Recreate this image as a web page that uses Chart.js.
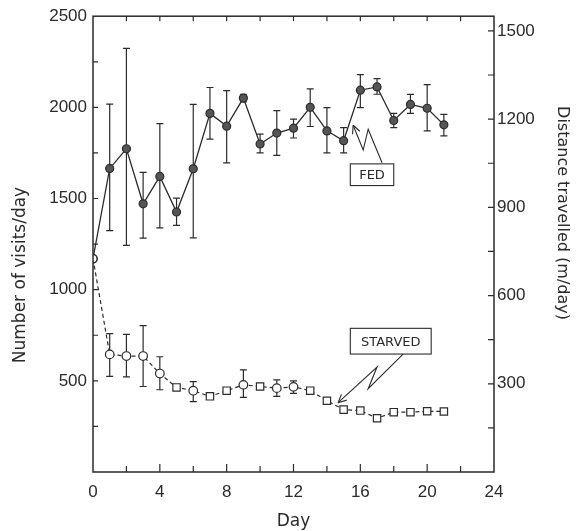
<!DOCTYPE html>
<html>
<head>
<meta charset="utf-8">
<script src="https://cdn.jsdelivr.net/npm/chart.js@4.4.1/dist/chart.umd.min.js"></script>
<style>
  html, body { margin: 0; padding: 0; background: #fff; }
</style>
</head>
<body>
<canvas id="chart" width="579" height="531"></canvas>
<script>
// values (left axis units: visits/day)
const days = [0, 1, 2, 3, 4, 5, 6, 7, 8, 9, 10, 11, 12, 13, 14, 15, 16, 17, 18, 19, 20, 21];

const fedVisits = [1170, 1665, 1773, 1471, 1621, 1426, 1663, 1967, 1897, 2051, 1799, 1859, 1886, 2000, 1871, 1817, 2094, 2112, 1928, 2016, 1995, 1904];
const fedUpper  = [null, 2018, 2324, 1643, 1911, 1502, 2016, 2109, 2092, 2072, 1853, 1982, 1936, 2101, 1998, 1889, 2179, 2158, 1967, 2071, 2125, 1962];
const fedLower  = [null, 1324, 1243, 1283, 1339, 1353, 1284, 1826, 1696, 2030, 1750, 1737, 1832, 1895, 1750, 1750, 1998, 2072, 1889, 1967, 1871, 1844];

const starvedVisits = [1170, 645, 636, 636, 540, 464, 446, 415, 446, 478, 469, 460, 467, 446, 391, 342, 337, 295, 328, 328, 333, 332];
const starvedUpper  = [null, 759, 755, 803, 632, 480, 496, 430, 460, 560, 484, 505, 500, 460, 405, 356, 351, 309, 342, 342, 347, 346];
const starvedLower  = [null, 525, 522, 469, 451, 448, 386, 400, 432, 409, 454, 415, 431, 432, 377, 328, 323, 281, 314, 314, 319, 318];

// tick labels
const dayLabels = [0, 4, 8, 12, 16, 20, 24];
const visitLabels = [500, 1000, 1500, 2000, 2500];
const distanceLabels = [300, 600, 900, 1200, 1500];

// days where the starved marker prints as a small square
const starvedSquareDays = [5, 7, 8, 10, 13, 14, 15, 16, 17, 18, 19, 20, 21];

const ink = '#2b2b2b';
const tickFont = { family: "'Liberation Sans Narrow', 'Liberation Sans', sans-serif", size: 17 };

const errorBars = {
  id: 'errorBars',
  beforeDatasetsDraw(chart) {
    const { ctx, scales: { x, y } } = chart;
    const sets = [[fedUpper, fedLower], [starvedUpper, starvedLower]];
    ctx.save();
    ctx.strokeStyle = ink;
    ctx.lineWidth = 1.2;
    sets.forEach(([up, lo]) => {
      days.forEach((d, i) => {
        if (up[i] == null) return;
        const px = x.getPixelForValue(d);
        const t = y.getPixelForValue(up[i]);
        const b = y.getPixelForValue(lo[i]);
        ctx.beginPath();
        ctx.moveTo(px, t); ctx.lineTo(px, b);
        ctx.moveTo(px - 3.5, t); ctx.lineTo(px + 3.5, t);
        ctx.moveTo(px - 3.5, b); ctx.lineTo(px + 3.5, b);
        ctx.stroke();
      });
    });
    ctx.restore();
  }
};

const frameTicks = {
  id: 'frameTicks',
  afterDraw(chart) {
    const { ctx, chartArea: a, scales: { x, y, y2 } } = chart;
    ctx.save();
    ctx.strokeStyle = ink;
    ctx.lineWidth = 1.5;
    ctx.strokeRect(a.left, a.top, a.right - a.left, a.bottom - a.top);
    ctx.lineWidth = 1.2;
    ctx.beginPath();
    x.ticks.forEach(t => {
      if (t.value <= x.min || t.value >= x.max) return;
      const px = x.getPixelForValue(t.value);
      const len = dayLabels.includes(t.value) ? 8 : 6;
      ctx.moveTo(px, a.bottom); ctx.lineTo(px, a.bottom - len);
      ctx.moveTo(px, a.top); ctx.lineTo(px, a.top + 5);
    });
    y.ticks.forEach(t => {
      if (t.value <= y.min || t.value >= y.max) return;
      const py = y.getPixelForValue(t.value);
      ctx.moveTo(a.left, py); ctx.lineTo(a.left + 5, py);
    });
    y2.ticks.forEach(t => {
      if (t.value <= y2.min || t.value > 1500) return;
      const py = y2.getPixelForValue(t.value);
      ctx.moveTo(a.right, py); ctx.lineTo(a.right - 6, py);
    });
    ctx.stroke();

    // axis titles
    ctx.fillStyle = ink;
    ctx.textAlign = 'center';
    ctx.textBaseline = 'middle';
    ctx.font = "17px 'DejaVu Sans', sans-serif";
    ctx.save();
    ctx.translate(21, 275);
    ctx.rotate(-Math.PI / 2);
    ctx.fillText('Number of visits/day', 0, 0);
    ctx.restore();
    ctx.save();
    ctx.translate(562, 213);
    ctx.rotate(Math.PI / 2);
    ctx.font = "16px 'DejaVu Sans', sans-serif";
    ctx.fillText('Distance travelled (m/day)', 0, 0);
    ctx.restore();
    ctx.fillText('Day', (a.left + a.right) / 2, 522);
    ctx.restore();
  }
};

// labelled boxes with zigzag arrows, placed in data units
const notes = [
  { text: 'FED', box: [15.4, 1690, 18.0, 1571], path: [[17.3, 1696], [16.47, 1880], [16.17, 1766], [15.57, 1902]] },
  { text: 'STARVED', box: [15.4, 788, 20.24, 647], path: [[18.56, 647], [16.47, 457], [17.0, 576], [14.67, 380]] }
];

const callouts = {
  id: 'callouts',
  afterDraw(chart) {
    const { ctx, scales: { x, y } } = chart;
    ctx.save();
    ctx.strokeStyle = ink;
    ctx.fillStyle = ink;
    ctx.lineWidth = 1.1;
    ctx.font = "13px 'DejaVu Sans', sans-serif";
    ctx.textAlign = 'center';
    ctx.textBaseline = 'middle';
    notes.forEach(n => {
      const x0 = x.getPixelForValue(n.box[0]), y0 = y.getPixelForValue(n.box[1]);
      const x1 = x.getPixelForValue(n.box[2]), y1 = y.getPixelForValue(n.box[3]);
      ctx.fillStyle = '#fff';
      ctx.fillRect(x0, y0, x1 - x0, y1 - y0);
      ctx.strokeRect(x0, y0, x1 - x0, y1 - y0);
      ctx.fillStyle = ink;
      ctx.fillText(n.text, (x0 + x1) / 2, (y0 + y1) / 2 + 1);
      const pts = n.path.map(p => [x.getPixelForValue(p[0]), y.getPixelForValue(p[1])]);
      ctx.beginPath();
      pts.forEach((p, i) => i ? ctx.lineTo(p[0], p[1]) : ctx.moveTo(p[0], p[1]));
      ctx.stroke();
      const [tx, ty] = pts[pts.length - 1];
      const [px, py] = pts[pts.length - 2];
      const ang = Math.atan2(ty - py, tx - px);
      ctx.beginPath();
      [0.45, -0.45].forEach(d => {
        ctx.moveTo(tx, ty);
        ctx.lineTo(tx - 9 * Math.cos(ang + d), ty - 9 * Math.sin(ang + d));
      });
      ctx.stroke();
    });
    ctx.restore();
  }
};

const ctx = document.getElementById('chart').getContext('2d');
new Chart(ctx, {
  type: 'line',
  data: {
    datasets: [
      {
        label: 'Fed',
        data: days.map((d, i) => ({ x: d, y: fedVisits[i] })),
        borderColor: ink,
        borderWidth: 1.3,
        pointRadius: 4,
        pointBorderWidth: 1.2,
        pointBorderColor: ink,
        pointBackgroundColor: days.map(d => d === 0 ? '#fff' : '#555'),
        tension: 0
      },
      {
        label: 'Starved',
        data: days.map((d, i) => ({ x: d, y: starvedVisits[i] })),
        borderColor: ink,
        borderWidth: 1.2,
        borderDash: [4, 3],
        pointStyle: days.map(d => starvedSquareDays.includes(d) ? 'rect' : 'circle'),
        pointRadius: days.map(d => starvedSquareDays.includes(d) ? 5.2 : 4.3),
        pointBorderWidth: 1.2,
        pointBorderColor: ink,
        pointBackgroundColor: '#fff',
        tension: 0
      }
    ]
  },
  options: {
    responsive: false,
    animation: false,
    layout: { padding: { top: 12, left: 0, right: 0, bottom: 0 } },
    plugins: { legend: { display: false }, tooltip: { enabled: false } },
    scales: {
      x: {
        type: 'linear', min: 0, max: 24,
        grid: { display: false, drawTicks: false },
        border: { display: false },
        ticks: {
          stepSize: 2, padding: 10, autoSkip: false, maxRotation: 0,
          color: ink, font: tickFont,
          callback: v => dayLabels.includes(v) ? String(v) : ''
        },
        afterFit(s) { s.height = 59; }
      },
      y: {
        position: 'left', min: 0, max: 2500,
        grid: { display: false, drawTicks: false },
        border: { display: false },
        ticks: {
          stepSize: 250, padding: 6, autoSkip: false,
          color: ink, font: tickFont,
          callback: v => visitLabels.includes(v) ? String(v) : ''
        },
        afterFit(s) { s.width = 93; }
      },
      y2: {
        position: 'right', min: 0, max: 1550,
        grid: { display: false, drawTicks: false },
        border: { display: false },
        ticks: {
          stepSize: 150, padding: 3, autoSkip: false, includeBounds: false,
          color: ink, font: tickFont,
          callback: v => distanceLabels.includes(v) ? String(v) : ''
        },
        afterFit(s) { s.width = 85; }
      }
    }
  },
  plugins: [errorBars, frameTicks, callouts]
});
</script>
</body>
</html>
